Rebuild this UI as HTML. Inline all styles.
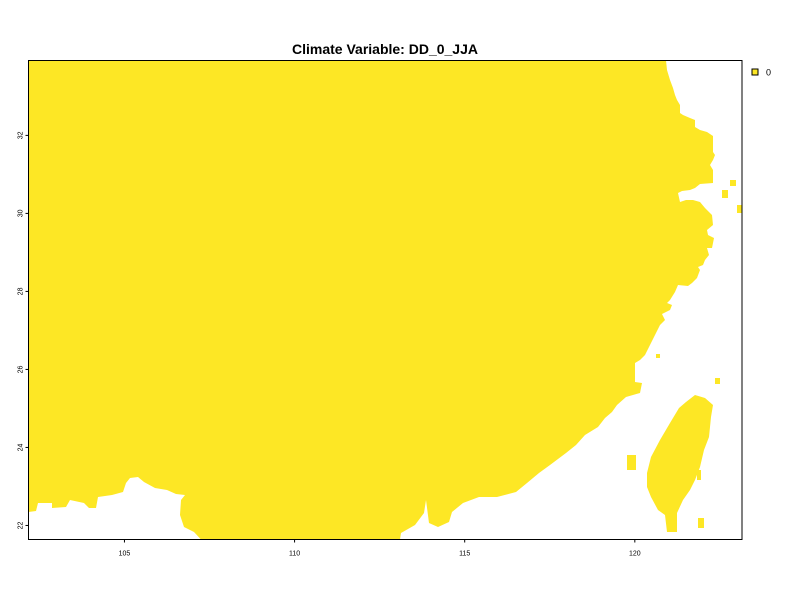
<!DOCTYPE html>
<html><head><meta charset="utf-8"><style>
html,body{margin:0;padding:0;background:#fff;}
svg{display:block;font-family:"Liberation Sans",sans-serif;}
</style></head><body>
<svg id="chart" width="800" height="600" viewBox="0 0 800 600">
<text x="385" y="54" text-anchor="middle" font-size="14" font-weight="bold" fill="#000">Climate Variable: DD_0_JJA</text>
<g id="land"></g>
<rect x="28.5" y="60.5" width="713.5" height="479" fill="none" stroke="#000" stroke-width="1"/>
<g id="axes"></g>
<rect x="752" y="69" width="6" height="6" fill="#fde725" stroke="#000" stroke-width="1"/>
<text x="766" y="75.5" font-size="9" fill="#000">0</text>
</svg>
<script>
// axis tick values
const xTicks = [105, 110, 115, 120];
const yTicks = [22, 24, 26, 28, 30, 32];
const legendValues = [0];
// map extent (degrees)
const lonMin = 102.18, lonMax = 123.15, latMin = 21.64, latMax = 33.92;
const L = 28.5, R = 742, T = 60.5, B = 539.5;
const sx = v => L + (v - lonMin) / (lonMax - lonMin) * (R - L);
const sy = v => B - (v - latMin) / (latMax - latMin) * (B - T);
const NS = "http://www.w3.org/2000/svg";
// coastline outlines, traced in pixel space
const mainland = [[28.5,60.5],[666,60.5],[667,70],[670,80],[673,88],[675,95],[677,100],[680,105],[680,113],[683,115],[690,118],[695,120],[695,127],[700,130],[707,132],[713,136],[713,152],[715,155],[713,160],[710,165],[713,170],[713,183],[700,184],[695,188],[690,190],[682,191],[678,193],[680,202],[686,200],[693,200],[700,202],[705,208],[712,215],[713,225],[707,230],[708,235],[714,238],[712,248],[707,248],[709,255],[705,260],[703,265],[698,267],[700,270],[697,278],[692,283],[688,286],[678,285],[675,292],[670,300],[667,303],[672,305],[670,310],[662,314],[665,320],[660,325],[655,335],[650,345],[645,355],[640,360],[635,363],[635,382],[642,383],[640,393],[626,397],[617,405],[612,412],[605,418],[598,427],[585,435],[576,445],[566,453],[550,465],[539,473],[527,483],[516,492],[497,497],[479,497],[463,503],[452,512],[449,522],[438,527],[429,523],[426,500],[424,513],[415,525],[401,533],[400,539.5],[201,539.5],[194,532],[184,527],[180,515],[181,500],[185,495],[176,494],[167,490],[155,488],[144,482],[138,477],[130,478],[126,483],[123,492],[112,495],[98,497],[96,508],[89,508],[84,503],[70,500],[66,507],[52,508],[52,503],[38,503],[36,511],[28.5,512]];
const taiwan = [[695,395],[705,398],[713,405],[711,417],[709,437],[704,450],[700,467],[695,480],[690,490],[683,500],[677,513],[677,532],[667,532],[665,515],[658,510],[651,497],[647,487],[647,473],[651,457],[660,440],[670,423],[679,408],[686,402]];
const islands = [[627,455,9,15],[698,518,6,10],[697,470,4,10],[715,378,5,6],[656,354,4,4],[730,180,6,6],[737,205,5,8],[722,190,6,8]];
const land = document.getElementById('land');
function poly(pts, name){
  const p = document.createElementNS(NS,'polygon');
  p.setAttribute('points', pts.map(q=>q.join(',')).join(' '));
  p.setAttribute('fill','#fde725');
  
  
  land.appendChild(p);
}
poly(mainland,'mainland-region');
poly(taiwan,'taiwan-region');
islands.forEach(r=>{
  const e=document.createElementNS(NS,'rect');
  e.setAttribute('x',r[0]);e.setAttribute('y',r[1]);e.setAttribute('width',r[2]);e.setAttribute('height',r[3]);
  e.setAttribute('fill','#fde725');
  
  
  land.appendChild(e);
});
const axes = document.getElementById('axes');
xTicks.forEach(v=>{
  const x=sx(v);
  const l=document.createElementNS(NS,'line');
  l.setAttribute('x1',x);l.setAttribute('x2',x);l.setAttribute('y1',B);l.setAttribute('y2',B+3);l.setAttribute('stroke','#000');
  
  
  axes.appendChild(l);
  const t=document.createElementNS(NS,'text');
  t.setAttribute('x',x);t.setAttribute('y',B+16);t.setAttribute('text-anchor','middle');t.setAttribute('font-size','7');
  t.textContent=v;
  
  
  axes.appendChild(t);
});
yTicks.forEach(v=>{
  const y=sy(v);
  const l=document.createElementNS(NS,'line');
  l.setAttribute('x1',L-3);l.setAttribute('x2',L);l.setAttribute('y1',y);l.setAttribute('y2',y);l.setAttribute('stroke','#000');
  
  
  axes.appendChild(l);
  const t=document.createElementNS(NS,'text');
  t.setAttribute('x',22.5);t.setAttribute('y',y);t.setAttribute('text-anchor','middle');t.setAttribute('font-size','7');
  t.setAttribute('transform','rotate(-90 22.5 '+y+')');
  t.textContent=v;
  
  
  axes.appendChild(t);
});
</script>
</body></html>
